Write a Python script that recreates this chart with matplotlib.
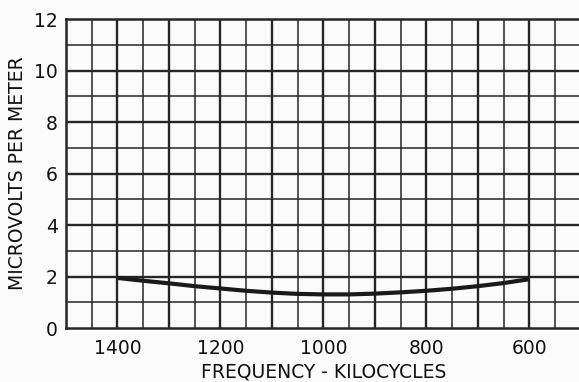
import matplotlib
matplotlib.use("Agg")
import matplotlib.pyplot as plt
import numpy as np

# curve (frequency in kc, field strength in uV/m)
freq_kc = [1400, 1350, 1300, 1250, 1200, 1150, 1100, 1050, 1000, 950, 900, 850, 800, 750, 700, 650, 600]
microvolts = [1.95, 1.84, 1.74, 1.63, 1.54, 1.45, 1.38, 1.33, 1.31, 1.31, 1.34, 1.39, 1.45, 1.53, 1.63, 1.75, 1.90]

x_ticks = [1400, 1200, 1000, 800, 600]
y_ticks = [0, 2, 4, 6, 8, 10, 12]

ink = "#262626"

fig = plt.figure(figsize=(5.79, 3.82), dpi=100)
fig.patch.set_facecolor("#fbfbfb")
ax = fig.add_axes([0.114, 0.141, 0.889, 0.809])
ax.set_facecolor("#fbfbfb")

# graph-paper grid: heavier every 100 kc / 2 uV
for xv in np.arange(550, 1500, 50):
    lw = 1.7 if xv % 100 == 0 else 1.1
    ax.axvline(xv, color=ink, lw=lw, zorder=1)
for yv in range(1, 12):
    lw = 1.7 if yv % 2 == 0 else 1.1
    ax.axhline(yv, color=ink, lw=lw, zorder=1)

ax.plot(freq_kc, microvolts, color="#1a1a1a", lw=3.0, solid_capstyle="butt", zorder=3)

ax.set_xlim(1500, 500)
ax.set_ylim(0, 12)
ax.set_xticks(x_ticks)
ax.set_yticks(y_ticks)
ax.tick_params(length=0, labelsize=13.5, colors="#111111")
ax.tick_params(axis="x", pad=8)
ax.tick_params(axis="y", pad=6)

for side in ["left", "bottom", "top"]:
    ax.spines[side].set_color(ink)
    ax.spines[side].set_linewidth(1.8)
ax.spines["right"].set_visible(False)

ax.set_xlabel("FREQUENCY - KILOCYCLES", fontsize=13.5, color="#111111", labelpad=3)
ax.set_ylabel("MICROVOLTS PER METER", fontsize=13.5, color="#111111", labelpad=5)

fig.savefig("out.png", dpi=100, facecolor=fig.get_facecolor())
